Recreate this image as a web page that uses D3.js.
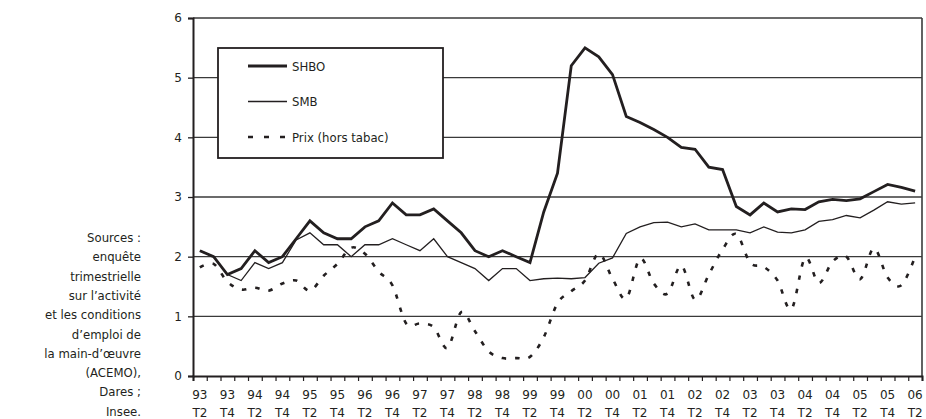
<!DOCTYPE html>
<html>
<head>
<meta charset="utf-8">
<script src="https://cdn.jsdelivr.net/npm/d3@7/dist/d3.min.js"></script>
<style>
  body { margin: 0; background: #fff; }
  svg text { font-family: "DejaVu Sans Condensed", "DejaVu Sans", sans-serif; fill: #231f20; }
</style>
</head>
<body>
<script>
// trimestres (93 T2 -> 06 T2)
const trimestres = ["93 T2","93 T3","93 T4","94 T1","94 T2","94 T3","94 T4","95 T1","95 T2","95 T3","95 T4",
  "96 T1","96 T2","96 T3","96 T4","97 T1","97 T2","97 T3","97 T4","98 T1","98 T2","98 T3","98 T4",
  "99 T1","99 T2","99 T3","99 T4","00 T1","00 T2","00 T3","00 T4","01 T1","01 T2","01 T3","01 T4",
  "02 T1","02 T2","02 T3","02 T4","03 T1","03 T2","03 T3","03 T4","04 T1","04 T2","04 T3","04 T4",
  "05 T1","05 T2","05 T3","05 T4","06 T1","06 T2"]

const shbo = [2.1, 2.0, 1.7, 1.8, 2.1, 1.9, 2.0, 2.3, 2.6, 2.4, 2.3, 2.3, 2.5, 2.6, 2.9, 2.7, 2.7, 2.8, 2.6, 2.4,
  2.1, 2.0, 2.1, 2.0, 1.9, 2.75, 3.4, 5.2, 5.5, 5.35, 5.05, 4.35, 4.25, 4.13, 4.0, 3.83, 3.8, 3.5, 3.46, 2.84,
  2.7, 2.9, 2.75, 2.8, 2.79, 2.92, 2.96, 2.94, 2.97, 3.09, 3.21, 3.16, 3.1]

const smb = [2.1, 2.0, 1.7, 1.6, 1.9, 1.8, 1.9, 2.28, 2.4, 2.2, 2.2, 2.0, 2.2, 2.2, 2.3, 2.2, 2.1, 2.3, 2.0, 1.9,
  1.8, 1.6, 1.8, 1.8, 1.6, 1.63, 1.64, 1.63, 1.65, 1.89, 1.98, 2.39, 2.5, 2.57, 2.58, 2.5, 2.55, 2.45, 2.45, 2.45,
  2.4, 2.5, 2.41, 2.4, 2.45, 2.59, 2.62, 2.69, 2.65, 2.78, 2.92, 2.88, 2.9]

const prix = [1.82, 1.88, 1.58, 1.45, 1.48, 1.43, 1.55, 1.6, 1.43, 1.68, 1.88, 2.15, 2.05, 1.75, 1.52, 0.88, 0.88, 0.82, 0.47, 1.07,
  0.75, 0.41, 0.3, 0.3, 0.32, 0.65, 1.22, 1.42, 1.6, 2.05, 1.63, 1.3, 1.97, 1.55, 1.38, 1.85, 1.28, 1.7, 2.12, 2.38,
  1.9, 1.83, 1.6, 1.12, 1.98, 1.56, 1.92, 2.0, 1.62, 2.14, 1.65, 1.52, 2.0]

const yTicks = [0, 1, 2, 3, 4, 5, 6]

const sourceLignes = ["Sources :", "enquête", "trimestrielle", "sur l\u2019activité", "et les conditions",
  "d\u2019emploi de", "la main-d\u2019\u0153uvre", "(ACEMO),", "Dares ;", "Insee."]

const series = [
  { nom: "SHBO", valeurs: shbo, largeur: 2.8, dash: null, courbe: d3.curveLinear },
  { nom: "SMB", valeurs: smb, largeur: 1.3, dash: null, courbe: d3.curveLinear },
  { nom: "Prix (hors tabac)", valeurs: prix, largeur: 2.6, dash: "4.5,9", courbe: d3.curveCatmullRom.alpha(0) }
]

const W = 926, H = 419
const margin = { top: 18, right: 4, bottom: 43, left: 193 }
const width = W - margin.left - margin.right
const height = H - margin.top - margin.bottom
const encre = "#231f20"

const svg = d3.select("body").append("svg")
    .attr("width", W)
    .attr("height", H)

const g = svg.append("g")
    .attr("transform", "translate(" + margin.left + "," + margin.top + ")")

// echelles
const x = d3.scaleBand().domain(trimestres).range([0, width])
const xBords = d3.scaleLinear().domain([0, trimestres.length]).range([0, width])
const y = d3.scaleLinear().domain([0, 6]).range([height, 0])

// grille horizontale
g.append("g")
    .selectAll("line")
    .data(yTicks.filter(d => d > 0))
    .enter().append("line")
    .attr("x1", 0).attr("x2", width)
    .attr("y1", d => y(d)).attr("y2", d => y(d))
    .attr("stroke", "#3a3a3a")
    .attr("stroke-width", 1.4)

// bord droit
g.append("line")
    .attr("x1", width).attr("x2", width)
    .attr("y1", 0).attr("y2", height)
    .attr("stroke", "#3a3a3a")
    .attr("stroke-width", 1.6)

// axe Y
const axeY = g.append("g")
    .call(d3.axisLeft(y).tickValues(yTicks).tickSize(5).tickPadding(6).tickFormat(d3.format("d")))
axeY.select(".domain").attr("stroke", encre).attr("stroke-width", 2)
axeY.selectAll(".tick line").attr("stroke", encre).attr("stroke-width", 1.3)
axeY.selectAll("text").attr("font-size", 12).style("font-family", "DejaVu Sans")

// axe X : graduations aux limites des trimestres
const axeX = g.append("g")
    .attr("transform", "translate(0," + height + ")")
    .call(d3.axisBottom(xBords).tickValues(d3.range(trimestres.length + 1)).tickSize(5).tickFormat(""))
axeX.select(".domain").attr("stroke", encre).attr("stroke-width", 2)
axeX.selectAll(".tick line").attr("stroke", encre).attr("stroke-width", 1.2)

// etiquettes un trimestre sur deux, sur deux lignes
const etiquettes = g.append("g")
    .attr("transform", "translate(0," + height + ")")
    .call(d3.axisBottom(x).tickValues(trimestres.filter((d, i) => i % 2 == 0)).tickSize(0).tickPadding(0))
etiquettes.select(".domain").remove()
etiquettes.selectAll(".tick text").each(function(d) {
    const t = d3.select(this).text("").attr("font-size", 12).attr("y", 0).attr("dy", null)
        .style("font-family", "DejaVu Sans")
    const parts = d.split(" ")
    t.append("tspan").attr("x", 0).attr("y", 23).text(parts[0])
    t.append("tspan").attr("x", 0).attr("y", 41).text(parts[1])
})

// courbes
series.forEach(function(s) {
    const ligne = d3.line()
        .x((d, i) => x(trimestres[i]) + x.bandwidth() / 2)
        .y(d => y(d))
        .curve(s.courbe)
    g.append("path")
        .datum(s.valeurs)
        .attr("fill", "none")
        .attr("stroke", encre)
        .attr("stroke-width", s.largeur)
        .attr("stroke-linejoin", "miter")
        .attr("stroke-dasharray", s.dash)
        .attr("d", ligne)
})

// legende
const leg = svg.append("g").attr("transform", "translate(218,48)")
leg.append("rect")
    .attr("width", 225).attr("height", 110)
    .attr("fill", "#fff")
    .attr("stroke", encre)
    .attr("stroke-width", 1.8)
series.forEach(function(s, i) {
    const yy = 18 + i * 35.5
    leg.append("line")
        .attr("x1", 30).attr("x2", 69)
        .attr("y1", yy).attr("y2", yy)
        .attr("stroke", encre)
        .attr("stroke-width", s.largeur)
        .attr("stroke-dasharray", s.dash ? "5,11" : null)
    leg.append("text")
        .attr("x", 74).attr("y", yy + 4.5)
        .attr("font-size", 13)
        .text(s.nom)
})

// sources
svg.append("g")
    .selectAll("text")
    .data(sourceLignes)
    .enter().append("text")
    .attr("x", 141)
    .attr("y", (d, i) => 242 + i * 19.3)
    .attr("text-anchor", "end")
    .attr("font-size", 13)
    .text(d => d)
</script>
</body>
</html>
